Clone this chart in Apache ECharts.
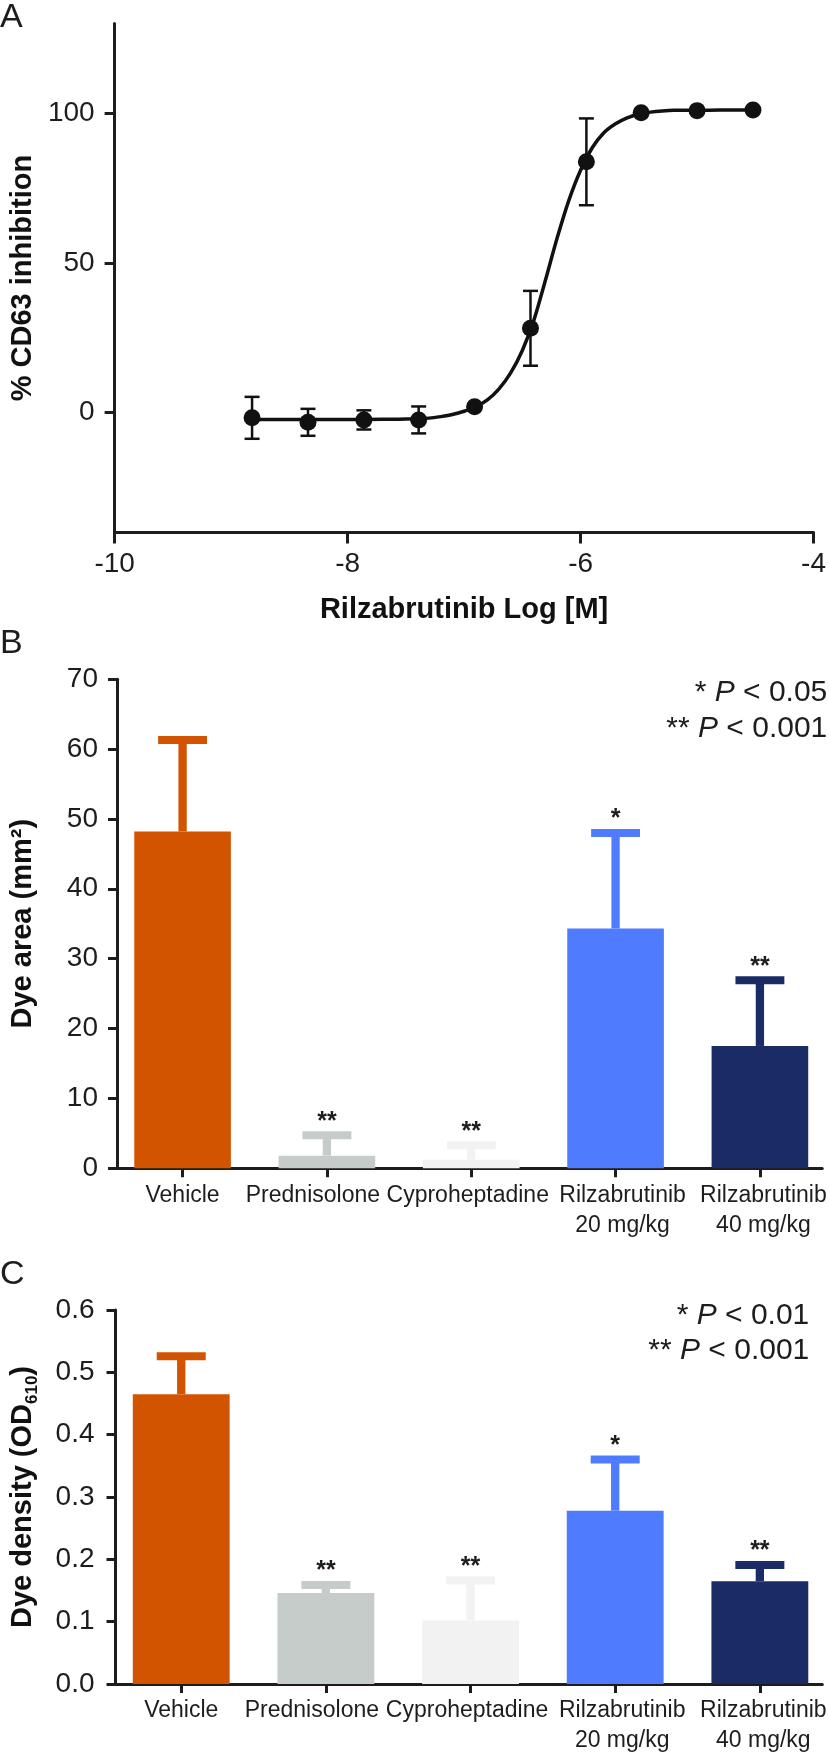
<!DOCTYPE html>
<html><head><meta charset="utf-8">
<script src="https://cdn.jsdelivr.net/npm/echarts@6/dist/echarts.min.js"></script>
<style>html,body{margin:0;padding:0;background:#fff}#c{width:829px;height:1756px}</style>
</head><body><div id="c"></div>
<script>
// ---------- Panel A data ----------
const doseLogM = [-8.82, -8.34, -7.86, -7.39, -6.91, -6.43, -5.95, -5.48, -5.00, -4.52];
const inhibMean = [-1.7, -3.2, -2.4, -2.4, 2.0, 28.2, 83.8, 100.2, 100.9, 101.1];
const inhibErr = [7.0, 4.5, 3.2, 4.5, 0, 12.5, 14.5, 0, 0, 0];
// fitted curve
const fitLogM = [-8.82, -8.4, -8.0, -7.7, -7.5, -7.3, -7.2, -7.1, -7.0, -6.9, -6.8, -6.7, -6.6, -6.5, -6.4, -6.3, -6.2, -6.1, -6.0, -5.9, -5.8, -5.7, -5.6, -5.5, -5.4, -5.3, -5.2, -5.0, -4.8, -4.52];
const fitInhib = [-2.3, -2.3, -2.3, -2.2, -2.1, -1.8, -1.3, -0.6, 0.5, 2.0, 4.3, 8.0, 13.3, 20.8, 31.0, 44.5, 58.5, 71.0, 81.0, 88.5, 93.5, 96.5, 98.5, 99.7, 100.4, 100.8, 101.0, 101.0, 101.1, 101.1];
const xTicksA = [-10, -8, -6, -4];
const yTicksA = [0, 50, 100];

// ---------- Panels B / C data ----------
const categories = ['Vehicle', 'Prednisolone', 'Cyproheptadine', 'Rilzabrutinib\n20 mg/kg', 'Rilzabrutinib\n40 mg/kg'];
const dyeAreaMean = [48.2, 1.8, 1.2, 34.3, 17.5];
const dyeAreaErr = [13.1, 2.9, 2.1, 13.7, 9.4];
const dyeAreaStars = ['', '**', '**', '*', '**'];
const dyeDensMean = [0.465, 0.146, 0.102, 0.278, 0.165];
const dyeDensErr = [0.061, 0.013, 0.064, 0.082, 0.026];
const dyeDensStars = ['', '**', '**', '*', '**'];

// ---------- styles ----------
const FONT = '"Liberation Sans", Arial, Helvetica, sans-serif';
const INK = '#1f1c1d';
const barColors = ['#D35400', '#C5CCCA', '#F1F2F1', '#4F7BFF', '#1B2B66'];
const catLabelShift = [0, -14, -3.5, 7, 3.5];   // label nudges (px) to avoid overlap, as in the original

const chart = echarts.init(document.getElementById('c'), null, {renderer: 'canvas'});

function axisBase() {
  return {
    axisLine: {show: true, onZero: false, lineStyle: {color: INK, width: 3}},
    splitLine: {show: false}
  };
}

function barRenderer(stars) {
  return function (params, api) {
    const i = api.value(0), v = api.value(1), e = api.value(2);
    const color = barColors[params.dataIndex];
    const base = api.coord([i, 0]);
    const top = api.coord([i, v]);
    const et = api.coord([i, v + e]);
    const w = api.size([0.6695, 0])[0];
    const capW = w * 0.506, stemW = 8.3, capH = 8;
    return {
      type: 'group',
      children: [
        {type: 'rect', shape: {x: base[0] - w / 2, y: top[1], width: w, height: base[1] - top[1]}, style: {fill: color}},
        {type: 'rect', shape: {x: base[0] - stemW / 2, y: et[1], width: stemW, height: top[1] - et[1]}, style: {fill: color}},
        {type: 'rect', shape: {x: base[0] - capW / 2, y: et[1] - capH / 2, width: capW, height: capH}, style: {fill: color}},
        {type: 'text', style: {text: stars[params.dataIndex], x: base[0], y: et[1] - 13.5, align: 'center', verticalAlign: 'middle',
          fill: INK, fontSize: 25, fontWeight: 'bold', fontFamily: FONT}}
      ]
    };
  };
}

function errRendererA(params, api) {
  const x = api.value(0), y = api.value(1), e = api.value(2);
  if (!e) return null;
  const t = api.coord([x, y + e]), b = api.coord([x, y - e]);
  const hw = 7.5;
  const st = {stroke: '#111', lineWidth: 2.5};
  return {
    type: 'group',
    children: [
      {type: 'line', shape: {x1: t[0], y1: t[1], x2: b[0], y2: b[1]}, style: st},
      {type: 'line', shape: {x1: t[0] - hw, y1: t[1], x2: t[0] + hw, y2: t[1]}, style: st},
      {type: 'line', shape: {x1: b[0] - hw, y1: b[1], x2: b[0] + hw, y2: b[1]}, style: st}
    ]
  };
}

const labelStyle = {color: INK, fontSize: 28, fontFamily: FONT};
const nameStyle = {color: '#111', fontSize: 29, fontWeight: 'bold', fontFamily: FONT};
const catIdx = categories.map((c, i) => i);
const catRich = {};
catLabelShift.forEach((s, i) => {
  catRich['c' + i] = {color: INK, fontSize: 23, fontFamily: FONT, lineHeight: 30,
    padding: s < 0 ? [0, -2 * s, 0, 0] : [0, 0, 0, 2 * s]};
});
function catFormatter(v) {
  const i = Math.round(v);
  return categories[i].split('\n').map(s => '{c' + i + '|' + s + '}').join('\n');
}
function catAxis(gi) {
  return Object.assign(axisBase(), {
    gridIndex: gi, type: 'value', min: -0.4543, max: 4.4318,
    axisLabel: {margin: 12, customValues: catIdx, formatter: catFormatter, rich: catRich,
      color: INK, fontSize: 23, fontFamily: FONT, lineHeight: 30},
    axisTick: {show: true, length: 9, customValues: catIdx, lineStyle: {color: INK, width: 3}}
  });
}

const option = {
  animation: false,
  backgroundColor: '#fff',
  grid: [
    {left: 106, top: 23.5, width: 715, height: 509},
    {left: 109.3, top: 679.2, width: 717.4, height: 489},
    {left: 108.3, top: 1310, width: 718.4, height: 375.7}
  ],
  xAxis: [
    Object.assign(axisBase(), {
      gridIndex: 0, type: 'value', min: -10, max: -4, interval: 2,
      axisLabel: Object.assign({}, labelStyle, {margin: 18, lineHeight: 28, showMinLabel: true, showMaxLabel: true,
        customValues: xTicksA}),
      axisTick: {show: true, length: 11, customValues: xTicksA, lineStyle: {color: INK, width: 3}},
      name: 'Rilzabrutinib Log [M]', nameLocation: 'middle', nameGap: 63,
      nameTextStyle: Object.assign({}, nameStyle, {lineHeight: 29})
    }),
    catAxis(1),
    catAxis(2)
  ],
  yAxis: [
    Object.assign(axisBase(), {
      gridIndex: 0, type: 'value', min: -40, max: 130,
      axisLabel: Object.assign({}, labelStyle, {margin: 20, customValues: yTicksA}),
      axisTick: {show: true, length: 10, customValues: yTicksA, lineStyle: {color: INK, width: 3}},
      name: '% CD63 inhibition', nameLocation: 'middle', nameRotate: 90, nameGap: 77,
      nameTextStyle: Object.assign({}, nameStyle, {lineHeight: 29})
    }),
    Object.assign(axisBase(), {
      gridIndex: 1, type: 'value', min: 0, max: 70, interval: 10,
      axisLabel: Object.assign({}, labelStyle, {margin: 19}),
      axisTick: {show: true, length: 9, lineStyle: {color: INK, width: 3}},
      name: 'Dye area (mm\u00B2)', nameLocation: 'middle', nameRotate: 90, nameGap: 80,
      nameTextStyle: Object.assign({}, nameStyle, {lineHeight: 29})
    }),
    Object.assign(axisBase(), {
      gridIndex: 2, type: 'value', min: 0, max: 0.6, interval: 0.1,
      axisLabel: Object.assign({}, labelStyle, {margin: 21, formatter: v => v.toFixed(1)}),
      axisTick: {show: true, length: 9, lineStyle: {color: INK, width: 3}},
      name: '{a|Dye density (OD}{s|610}{a|)}', nameLocation: 'middle', nameRotate: 90, nameGap: 75,
      nameTextStyle: {
        rich: {
          a: {color: '#111', fontSize: 29, fontWeight: 'bold', fontFamily: FONT, lineHeight: 36},
          s: {color: '#111', fontSize: 17, fontWeight: 'bold', fontFamily: FONT, lineHeight: 17, verticalAlign: 'bottom'}
        }
      }
    })
  ],
  graphic: [
    {type: 'text', x: 0, y: 18, style: {text: 'A', fontSize: 34, fill: INK, fontFamily: FONT, align: 'left', verticalAlign: 'middle'}},
    {type: 'text', x: 0, y: 643.5, style: {text: 'B', fontSize: 34, fill: INK, fontFamily: FONT, align: 'left', verticalAlign: 'middle'}},
    {type: 'text', x: 0, y: 1275, style: {text: 'C', fontSize: 34, fill: INK, fontFamily: FONT, align: 'left', verticalAlign: 'middle'}},
    {type: 'text', x: 827.3, y: 692.5, style: {text: '{n|* }{i|P}{n| < 0.05}', align: 'right', verticalAlign: 'middle',
      rich: {n: {fontSize: 30, fontFamily: FONT, fill: INK}, i: {fontSize: 30, fontFamily: FONT, fontStyle: 'italic', fill: INK}}}},
    {type: 'text', x: 827.3, y: 728.3, style: {text: '{n|** }{i|P}{n| < 0.001}', align: 'right', verticalAlign: 'middle',
      rich: {n: {fontSize: 30, fontFamily: FONT, fill: INK}, i: {fontSize: 30, fontFamily: FONT, fontStyle: 'italic', fill: INK}}}},
    {type: 'text', x: 809.3, y: 1316, style: {text: '{n|* }{i|P}{n| < 0.01}', align: 'right', verticalAlign: 'middle',
      rich: {n: {fontSize: 30, fontFamily: FONT, fill: INK}, i: {fontSize: 30, fontFamily: FONT, fontStyle: 'italic', fill: INK}}}},
    {type: 'text', x: 809.3, y: 1351, style: {text: '{n|** }{i|P}{n| < 0.001}', align: 'right', verticalAlign: 'middle',
      rich: {n: {fontSize: 30, fontFamily: FONT, fill: INK}, i: {fontSize: 30, fontFamily: FONT, fontStyle: 'italic', fill: INK}}}}
  ],
  series: [
    {
      type: 'line', xAxisIndex: 0, yAxisIndex: 0, z: 2,
      data: fitLogM.map((x, i) => [x, fitInhib[i]]),
      showSymbol: false, smooth: 0.3,
      lineStyle: {color: '#111', width: 3.5}
    },
    {
      type: 'custom', xAxisIndex: 0, yAxisIndex: 0, z: 3,
      data: doseLogM.map((x, i) => [x, inhibMean[i], inhibErr[i]]),
      renderItem: errRendererA
    },
    {
      type: 'scatter', xAxisIndex: 0, yAxisIndex: 0, z: 4,
      data: doseLogM.map((x, i) => [x, inhibMean[i]]),
      symbol: 'circle', symbolSize: 17, itemStyle: {color: '#111', opacity: 1}
    },
    {
      type: 'custom', xAxisIndex: 1, yAxisIndex: 1,
      data: dyeAreaMean.map((v, i) => [i, v, dyeAreaErr[i]]),
      encode: {x: 0, y: 1},
      renderItem: barRenderer(dyeAreaStars)
    },
    {
      type: 'custom', xAxisIndex: 2, yAxisIndex: 2,
      data: dyeDensMean.map((v, i) => [i, v, dyeDensErr[i]]),
      encode: {x: 0, y: 1},
      renderItem: barRenderer(dyeDensStars)
    }
  ]
};
chart.setOption(option);
</script></body></html>
